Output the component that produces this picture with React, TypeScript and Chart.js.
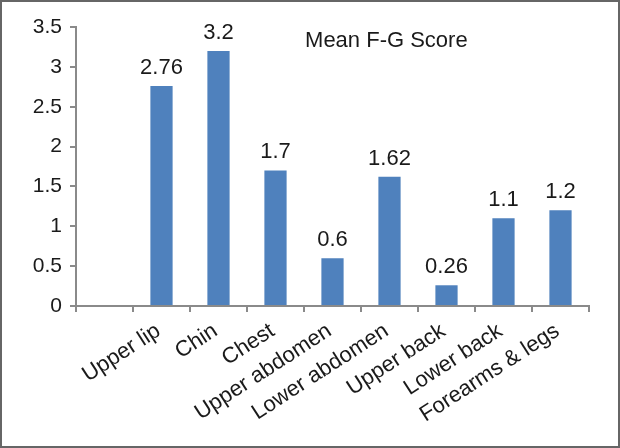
import React, { useEffect, useRef } from "react";
import { Chart, registerables } from "chart.js";

Chart.register(...registerables);

const categories: string[] = [
  "",
  "Upper lip",
  "Chin",
  "Chest",
  "Upper abdomen",
  "Lower abdomen",
  "Upper back",
  "Lower back",
  "Forearms & legs",
];
const meanScores: (number | null)[] = [null, 2.76, 3.2, 1.7, 0.6, 1.62, 0.26, 1.1, 1.2];
const valueLabels: string[] = ["", "2.76", "3.2", "1.7", "0.6", "1.62", "0.26", "1.1", "1.2"];
const chartTitle = "Mean F-G Score";
const yMin = 0;
const yMax = 3.5;
const yStep = 0.5;

const FONT = "'Liberation Sans', Arial, sans-serif";

const framePlugin = {
  id: "frame",
  beforeDraw(chart: any) {
    const { ctx, width, height } = chart;
    ctx.save();
    ctx.fillStyle = "#ffffff";
    ctx.fillRect(0, 0, width, height);
    ctx.restore();
  },
  afterDraw(chart: any) {
    const { ctx, width, height, chartArea } = chart;
    ctx.save();
    const meta = chart.getDatasetMeta(0);
    ctx.font = `22px ${FONT}`;
    ctx.fillStyle = "#1a1a1a";
    ctx.textAlign = "center";
    ctx.textBaseline = "alphabetic";
    meta.data.forEach((bar: any, i: number) => {
      if (meanScores[i] == null) return;
      ctx.fillText(valueLabels[i], bar.x, bar.y - 12);
    });
    ctx.font = `22px ${FONT}`;
    ctx.textBaseline = "middle";
    ctx.fillText(
      chartTitle,
      chartArea.left + (chartArea.right - chartArea.left) * 0.605,
      chartArea.top + 14
    );
    ctx.strokeStyle = "#666666";
    ctx.lineWidth = 2;
    ctx.strokeRect(1, 1, width - 2, height - 2);
    ctx.restore();
  },
};

export default function App() {
  const canvasRef = useRef<HTMLCanvasElement | null>(null);

  useEffect(() => {
    const canvas = canvasRef.current;
    if (!canvas) return;
    const chart = new Chart(canvas, {
      type: "bar",
      data: {
        labels: categories,
        datasets: [
          {
            label: chartTitle,
            data: meanScores,
            backgroundColor: "#4F81BD",
            borderWidth: 0,
            barPercentage: 0.39,
            categoryPercentage: 1,
          },
        ],
      },
      options: {
        responsive: false,
        animation: false,
        layout: { padding: { top: 27, right: 31, left: 0, bottom: 0 } },
        plugins: {
          legend: { display: false },
          tooltip: { enabled: false },
          title: { display: false },
        },
        scales: {
          x: {
            offset: true,
            grid: {
              offset: true,
              drawOnChartArea: false,
              drawTicks: true,
              tickLength: 6,
              color: "#8a8a8a",
              lineWidth: 2,
            },
            border: { display: true, color: "#8a8a8a", width: 2 },
            ticks: {
              minRotation: 33,
              maxRotation: 33,
              autoSkip: false,
              padding: 6,
              labelOffset: -3,
              color: "#1a1a1a",
              font: { family: FONT, size: 22 },
            },
            afterFit(scale: any) {
              scale.height = 142;
            },
          },
          y: {
            min: yMin,
            max: yMax,
            ticks: {
              stepSize: yStep,
              padding: 8,
              color: "#1a1a1a",
              font: { family: FONT, size: 21 },
              callback: (value: any) => String(Number(value)),
            },
            grid: {
              drawOnChartArea: false,
              drawTicks: true,
              tickLength: 6,
              color: "#8a8a8a",
              lineWidth: 2,
            },
            border: { display: true, color: "#8a8a8a", width: 2 },
            afterFit(scale: any) {
              scale.width = 76;
            },
          },
        },
      },
      plugins: [framePlugin],
    });
    return () => chart.destroy();
  }, []);

  return (
    <div style={{ position: "fixed", left: 0, top: 0, width: 620, height: 448 }}>
      <canvas ref={canvasRef} width={620} height={448} />
    </div>
  );
}
